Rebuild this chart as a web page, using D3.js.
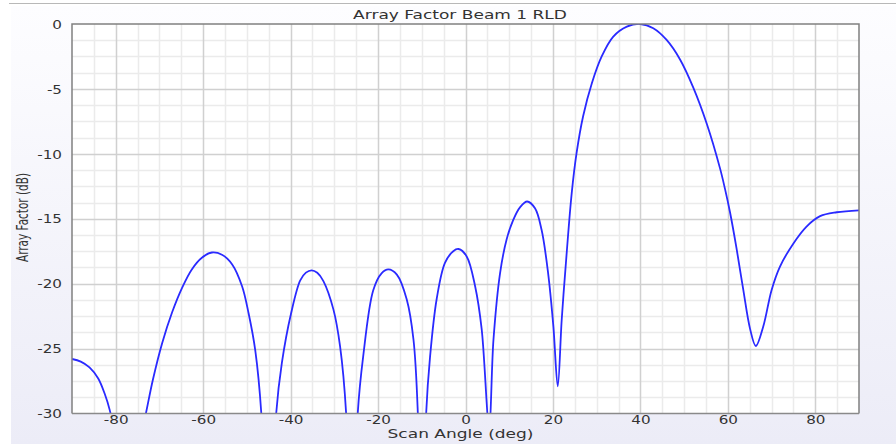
<!DOCTYPE html>
<html><head><meta charset="utf-8">
<script src="https://cdn.jsdelivr.net/npm/d3@7"></script>
<style>html,body{margin:0;padding:0;background:#fff;}svg{display:block;}</style>
</head><body>
<svg id="c" width="896" height="444"></svg>
<script>
const angles = [-90,-88,-86,-84,-82.5,-81.4,-79.5,-77,-75,-73.1,-71.5,-69.4,-67.1,-64.8,-62.6,-60.3,-58.0,-55.7,-53.4,-51.1,-49.6,-48.1,-46.7,-45,-43.3,-42.0,-39.9,-37.8,-36.5,-35.2,-33.9,-32.5,-30.2,-28.7,-27.3,-26,-24.65,-23.4,-21.1,-19.2,-17.65,-15.7,-13.45,-11.9,-10.9,-10,-9.0,-8.1,-6.6,-4.7,-2.8,-1.6,0.27,2.2,3.7,5.4,6.4,7.9,9.4,10.9,12.5,14.1,15.9,17.4,18.9,20.1,21.1,22.0,23.15,24.3,25.4,26.9,28.9,31.15,33.8,36.9,40,42.95,46.0,49.1,52.1,55.2,58.2,59.35,60.5,62.0,63.5,65.1,66.4,68.1,70.0,71.9,75.0,78.0,81.1,84.9,90];
const arrayFactorDb = [-25.8,-26.0,-26.45,-27.3,-28.5,-29.7,-33,-45,-33,-30,-27.4,-24.6,-22.2,-20.3,-18.9,-18.0,-17.6,-17.77,-18.5,-20.2,-22.3,-25.1,-30,-45,-30,-26.1,-22.3,-19.75,-19.15,-18.97,-19.16,-19.8,-22.0,-24.8,-30,-45,-30,-25.6,-20.5,-19.2,-18.9,-19.3,-21.2,-24.3,-30,-45,-30,-25.6,-21.2,-18.4,-17.5,-17.33,-17.9,-20.2,-23.5,-31,-24.3,-19.2,-16.6,-15.1,-14.1,-13.67,-14.2,-15.85,-19.2,-23.3,-27.9,-22.8,-17.6,-13.0,-9.95,-7.1,-4.56,-2.5,-0.97,-0.2,0,-0.33,-1.23,-2.75,-4.9,-7.7,-11.1,-12.7,-14.5,-17.3,-20.4,-23.5,-24.8,-23.3,-20.5,-18.7,-16.9,-15.6,-14.8,-14.5,-14.35];
const xTicks = [-80,-60,-40,-20,0,20,40,60,80];
const yTicks = [0,-5,-10,-15,-20,-25,-30];
const titleText = "Array Factor Beam 1 RLD";
const xLabel = "Scan Angle (deg)";
const yLabel = "Array Factor (dB)";

const svg = d3.select("#c");
const L = 72, R = 859, T = 24, B = 413.5;
const x = d3.scaleLinear().domain([-90, 90]).range([L, R]);
const y = d3.scaleLinear().domain([-30, 0]).range([B, T]);
const FONT = "DejaVu Sans";
const SX_T = 1.48, SX_K = 1.32;

// background
const defs = svg.append("defs");
const g = defs.append("linearGradient").attr("id","bg").attr("x1",0).attr("y1",0).attr("x2",0).attr("y2",1);
g.append("stop").attr("offset","0%").attr("stop-color","#fdfdff");
g.append("stop").attr("offset","100%").attr("stop-color","#ececf7");
svg.append("rect").attr("x",0).attr("y",0).attr("width",896).attr("height",444).attr("fill","#ffffff");
svg.append("rect").attr("x",11).attr("y",6).attr("width",885).attr("height",438).attr("fill","url(#bg)");
svg.append("line").attr("x1",9).attr("x2",896).attr("y1",3.5).attr("y2",3.5).attr("stroke","#b8b8b8");
defs.append("clipPath").attr("id","clip").append("rect").attr("x",L).attr("y",T).attr("width",R-L).attr("height",B-T);

// plot area
svg.append("rect").attr("x",L).attr("y",T).attr("width",R-L).attr("height",B-T).attr("fill","#ffffff");

// grid
const gridG = svg.append("g");
const minorX = d3.range(-85, 90, 5).filter(v => v % 20 !== 0);
const minorY = d3.range(0, 24).map(i => -i*1.25).filter(v => v % 5 !== 0 && v > -30);
const majorX = xTicks;
const majorY = yTicks.filter(v => v !== 0 && v !== -30);
gridG.selectAll(".mx").data(minorX).join("line")
  .attr("x1", d => Math.round(x(d))+0.5).attr("x2", d => Math.round(x(d))+0.5)
  .attr("y1", T).attr("y2", B).attr("stroke","#ebebeb").attr("stroke-width",1.5);
gridG.selectAll(".my").data(minorY).join("line")
  .attr("y1", d => Math.round(y(d))+0.5).attr("y2", d => Math.round(y(d))+0.5)
  .attr("x1", L).attr("x2", R).attr("stroke","#ebebeb").attr("stroke-width",1.5);
gridG.selectAll(".Mx").data(majorX).join("line")
  .attr("x1", d => Math.round(x(d))+0.5).attr("x2", d => Math.round(x(d))+0.5)
  .attr("y1", T).attr("y2", B).attr("stroke","#d0d0d0").attr("stroke-width",1.5);
gridG.selectAll(".My").data(majorY).join("line")
  .attr("y1", d => Math.round(y(d))+0.5).attr("y2", d => Math.round(y(d))+0.5)
  .attr("x1", L).attr("x2", R).attr("stroke","#d0d0d0").attr("stroke-width",1.5);

// curve
const pts = angles.map((a,i) => [a, arrayFactorDb[i]]);
const line = d3.line().x(d => x(d[0])).y(d => y(d[1])).curve(d3.curveCatmullRom.alpha(0.5));
svg.append("path").attr("d", line(pts)).attr("clip-path","url(#clip)")
  .attr("fill","none").attr("stroke","#2a2aff").attr("stroke-width",1.8);

// frame
svg.append("path").attr("d", `M${L},${B}V${T}H${R}V${B}`).attr("fill","none").attr("stroke","#808080").attr("stroke-width",1.5);
svg.append("line").attr("x1",L).attr("x2",R).attr("y1",B).attr("y2",B).attr("stroke","#8a8a8a").attr("stroke-width",1.5);

// axes
const fmt = d => String(d);
const xAxis = d3.axisBottom(x).tickValues(xTicks).tickSize(0).tickFormat(fmt);
const xa = svg.append("g").attr("transform",`translate(0,${B})`).call(xAxis);
xa.select(".domain").remove();
xa.selectAll("text").attr("dy",null).attr("y",11).attr("transform",`scale(${SX_K},1)`)
  .attr("font-family",FONT).attr("font-size",11.5).attr("fill","#333");
const yAxis = d3.axisLeft(y).tickValues(yTicks).tickSize(0).tickFormat(fmt);
const ya = svg.append("g").attr("transform",`translate(${L},0)`).call(yAxis);
ya.select(".domain").remove();
ya.selectAll("text").attr("x", -10/SX_K).attr("dy",null).attr("y",4.2).attr("transform",`scale(${SX_K},1)`)
  .attr("font-family",FONT).attr("font-size",11.5).attr("fill","#333");

// labels
function label(txt, tx, ty, sx, size, rot) {
  svg.append("g").attr("transform",`translate(${tx},${ty}) scale(${sx},1)` + (rot ? ` rotate(${rot})` : ""))
    .append("text").attr("text-anchor","middle").attr("font-family",FONT).attr("font-size",size)
    .attr("fill","#333").text(txt);
}
label(titleText, 460, 19, SX_T, 11.5, 0);
label(xLabel, 460.5, 438, SX_T, 11.5, 0);
label(yLabel, 28.3, 217.5, 1.45, 10.5, -90);
</script>
</body></html>
